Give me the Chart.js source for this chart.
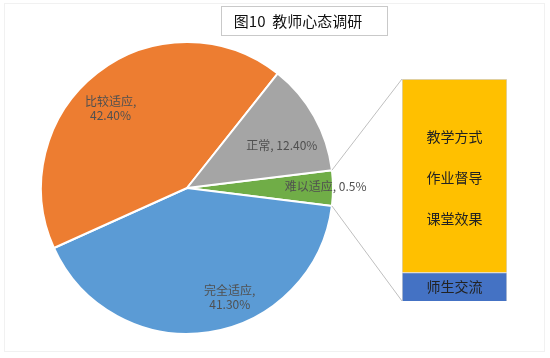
<!DOCTYPE html>
<html>
<head>
<meta charset="utf-8">
<script src="https://cdn.jsdelivr.net/npm/chart.js@4.4.1/dist/chart.umd.min.js"></script>
<style>
  html, body { margin: 0; padding: 0; background: #ffffff; }
  #wrap { position: relative; width: 550px; height: 358px; }
  #wrap canvas { position: absolute; left: 0; top: 0; }
  #frame { position: absolute; left: 4px; top: 3px; width: 541px; height: 349px; border: 1px solid #f1f1f1; box-sizing: border-box; }
</style>
</head>
<body>
<div id="wrap">
  <div id="frame"></div>
  <canvas id="pie" width="550" height="358"></canvas>
  <canvas id="bar" width="550" height="358"></canvas>
</div>
<script>
// ---- data ----
const chartTitle = '图10  教师心态调研';
const pieCategories = ['难以适应', '完全适应', '比较适应', '正常'];
const pieValues = [3.9, 41.3, 42.4, 12.4];          // slice sizes as drawn
const pieLabelPercents = ['0.5%', '41.30%', '42.40%', '12.40%']; // percentages as printed
const pieColors = ['#70AD47', '#5B9BD5', '#ED7D31', '#A5A5A5'];

const barCategories = ['其他'];
const barSeriesNames = ['师生交流', '教学方式'];
const barBlueValues = [0.5];
const barYellowValues = [3.4];
const barYellowLabels = ['教学方式', '作业督导', '课堂效果'];

const FONT = '"Noto Sans CJK SC", "Microsoft YaHei", sans-serif';

// ---- pie ----
const pieLabelPlugin = {
  id: 'pieLabels',
  afterDatasetsDraw(chart) {
    const ctx = chart.ctx;
    const meta = chart.getDatasetMeta(0);
    ctx.save();
    ctx.font = '12px ' + FONT;
    ctx.fillStyle = '#505050';
    ctx.textAlign = 'center';
    ctx.textBaseline = 'middle';
    const place = [
      {r: 0.97, dx: -3, dy: -2, twoLine: false},
      {r: 0.72, dx: 27, dy: 6, twoLine: true},
      {r: 0.74, dx: -10, dy: 6, twoLine: true},
      {r: 0.69, dx: 7, dy: 7, twoLine: false}
    ];
    meta.data.forEach((arc, i) => {
      const mid = (arc.startAngle + arc.endAngle) / 2;
      const rr = arc.outerRadius * place[i].r;
      const x = arc.x + Math.cos(mid) * rr + place[i].dx;
      const y = arc.y + Math.sin(mid) * rr + place[i].dy;
      if (place[i].twoLine) {
        ctx.fillText(pieCategories[i] + ',', x, y - 7);
        ctx.fillText(pieLabelPercents[i], x, y + 7);
      } else {
        ctx.fillText(pieCategories[i] + ', ' + pieLabelPercents[i], x, y);
      }
    });
    ctx.restore();
  }
};

const titleBoxPlugin = {
  id: 'titleBox',
  afterDraw(chart) {
    const ctx = chart.ctx;
    ctx.save();
    ctx.fillStyle = '#ffffff';
    ctx.strokeStyle = '#c9c9c9';
    ctx.lineWidth = 1;
    ctx.fillRect(221.5, 6.5, 166, 29);
    ctx.strokeRect(221.5, 6.5, 166, 29);
    ctx.fillStyle = '#111111';
    ctx.font = '15px ' + FONT;
    ctx.textAlign = 'center';
    ctx.textBaseline = 'middle';
    ctx.fillText(chartTitle, 298, 21.5);
    ctx.restore();
  }
};

const pieChart = new Chart(document.getElementById('pie'), {
  type: 'pie',
  data: {
    labels: pieCategories,
    datasets: [{
      data: pieValues,
      backgroundColor: pieColors,
      borderColor: '#ffffff',
      borderWidth: 2
    }]
  },
  options: {
    responsive: false,
    animation: false,
    rotation: 83,
    radius: 146,
    layout: { padding: { left: 42, right: 218, top: 43, bottom: 25 } },
    plugins: { legend: { display: false }, tooltip: { enabled: false }, title: { display: false } }
  },
  plugins: [pieLabelPlugin, titleBoxPlugin]
});

// ---- bar (second pie-of-bar part) ----
const barPlugin = {
  id: 'barDecor',
  afterDatasetsDraw(chart) {
    const ctx = chart.ctx;
    const blue = chart.getDatasetMeta(0).data[0];
    const yel = chart.getDatasetMeta(1).data[0];
    const left = yel.x - yel.width / 2;
    const arc = pieChart.getDatasetMeta(0).data[0];
    const p1x = arc.x + Math.cos(arc.startAngle) * arc.outerRadius;
    const p1y = arc.y + Math.sin(arc.startAngle) * arc.outerRadius;
    const p2x = arc.x + Math.cos(arc.endAngle) * arc.outerRadius;
    const p2y = arc.y + Math.sin(arc.endAngle) * arc.outerRadius;
    ctx.save();
    ctx.strokeStyle = '#bfbfbf';
    ctx.lineWidth = 1;
    ctx.beginPath();
    ctx.moveTo(p1x, p1y); ctx.lineTo(left, yel.y);
    ctx.moveTo(p2x, p2y); ctx.lineTo(left, blue.base);
    ctx.stroke();
    ctx.font = '14px ' + FONT;
    ctx.fillStyle = '#222222';
    ctx.textAlign = 'center';
    ctx.textBaseline = 'middle';
    const cy = (yel.y + yel.base) / 2 + 2;
    barYellowLabels.forEach((t, i) => ctx.fillText(t, yel.x, cy + (i - 1) * 41));
    ctx.fillText(barSeriesNames[0], blue.x, (blue.y + blue.base) / 2);
    ctx.restore();
  }
};

new Chart(document.getElementById('bar'), {
  type: 'bar',
  data: {
    labels: barCategories,
    datasets: [
      { label: barSeriesNames[0], data: barBlueValues, backgroundColor: '#4472C4', borderColor: '#d6d6d6', borderWidth: 1, barPercentage: 1, categoryPercentage: 1 },
      { label: barSeriesNames[1], data: barYellowValues, backgroundColor: '#FFC000', borderColor: '#d6d6d6', borderWidth: 1, barPercentage: 1, categoryPercentage: 1 }
    ]
  },
  options: {
    responsive: false,
    animation: false,
    layout: { padding: { left: 402, right: 43, top: 79, bottom: 57 } },
    scales: {
      x: { stacked: true, display: false },
      y: { stacked: true, display: false, min: 0, max: 3.9 }
    },
    plugins: { legend: { display: false }, tooltip: { enabled: false } }
  },
  plugins: [barPlugin]
});
</script>
</body>
</html>
